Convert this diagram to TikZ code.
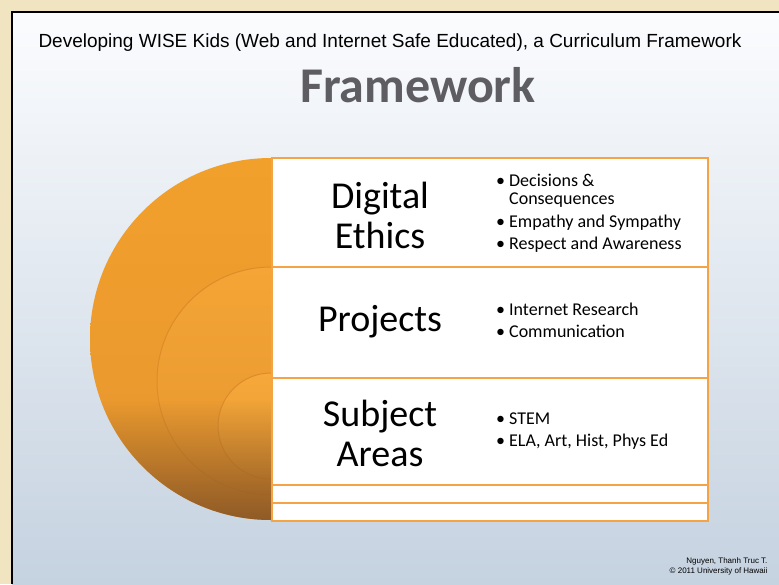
\documentclass[tikz,border=0pt]{standalone}
\usepackage{fontspec}
\usetikzlibrary{fadings}
\setmainfont{Carlito}
\newfontfamily\arialfont{Liberation Sans}
\definecolor{pagebeige}{HTML}{F1E5C1}
\definecolor{slidetop}{HTML}{FBFCFE}
\definecolor{slidebot}{HTML}{C5D2E0}
\definecolor{disktop}{HTML}{F2A02C}
\definecolor{diskmid}{HTML}{E6962F}
\definecolor{diskdark}{HTML}{8E5A26}
\definecolor{ringtwo}{HTML}{F4A535}
\definecolor{ringthree}{HTML}{F6A83A}
\definecolor{ringthreebot}{HTML}{E89A33}
\definecolor{ringline}{HTML}{DD8C2A}
\definecolor{boxline}{HTML}{F4A445}
\definecolor{titlegray}{HTML}{5E5E62}
\tikzfading[name=darkenbottom, top color=transparent!100, bottom color=transparent!0]
\begin{document}
\begin{tikzpicture}[x=1pt,y=-1pt,
  rowbox/.style={draw=boxline, line width=2pt, fill=white, minimum width=436pt, inner sep=0pt},
  heading/.style={font=\fontsize{38}{40}\selectfont, align=center, inner sep=0pt},
  bullets/.style={font=\fontsize{18}{18}\selectfont, anchor=west, inner sep=0pt}]
  \useasboundingbox (0,0) rectangle (779,584);
  % page and slide
  \fill[pagebeige] (0,0) rectangle (779,584);
  \shade[top color=slidetop, bottom color=slidebot] (12,12) rectangle (779,584);
  \draw[line width=1.5pt] (12,584) -- (12,12) -- (779,12);

  \node[font=\arialfont\fontsize{19}{21}\selectfont] (subtitle) at (390,43)
    {Developing WISE Kids (Web and Internet Safe Educated), a Curriculum Framework};
  \node[font=\fontsize{50}{52}\bfseries, text=titlegray] (title) at (418,85) {Framework};

  % half disk
  \begin{scope}
    \clip (80,150) rectangle (271,530);
    \shade[top color=disktop, bottom color=diskmid] (271,339) circle[radius=181pt];
    \shade[draw=ringline, line width=1pt, top color=ringtwo, bottom color=diskmid] (271,381) circle[radius=114pt];
    \shade[draw=ringline, line width=1pt, top color=ringthree, bottom color=ringthreebot] (271,426) circle[radius=53pt];
    \clip (271,339) circle[radius=181pt];
    \fill[diskdark, path fading=darkenbottom] (80,400) rectangle (271,521);
  \end{scope}

  % rows
  \node[rowbox, minimum height=109pt] (ethics) at (490,212.5) {};
  \node[rowbox, minimum height=111pt] (projects) at (490,322.5) {};
  \node[rowbox, minimum height=107pt] (subjects) at (490,431.5) {};
  \node[rowbox, minimum height=18pt] (blankA) at (490,494) {};
  \node[rowbox, minimum height=18pt] (blankB) at (490,512) {};

  \node[heading] (ethicsname) at (380,215) {Digital\\Ethics};
  \node[heading] (projectsname) at (380,322) {Projects};
  \node[heading] (subjectsname) at (380,433) {Subject\\Areas};

  \node[bullets] (ethicslist) at (496,214) {\begin{tabular}{@{}l@{\hspace{4pt}}l@{}}
    \textbullet & Decisions \&\\
                & Consequences\\[5pt]
    \textbullet & Empathy and Sympathy\\[4pt]
    \textbullet & Respect and Awareness
  \end{tabular}};
  \node[bullets] (projectslist) at (496,323) {\begin{tabular}{@{}l@{\hspace{4pt}}l@{}}
    \textbullet & Internet Research\\[4pt]
    \textbullet & Communication
  \end{tabular}};
  \node[bullets] (subjectslist) at (496,432) {\begin{tabular}{@{}l@{\hspace{4pt}}l@{}}
    \textbullet & STEM\\[4pt]
    \textbullet & ELA, Art, Hist, Phys Ed
  \end{tabular}};

  \node[font=\arialfont\fontsize{8}{10}\selectfont, align=right, anchor=east] (credit) at (771,566)
    {Nguyen, Thanh Truc T.\\\textcopyright\ 2011 University of Hawaii};
\end{tikzpicture}
\end{document}
